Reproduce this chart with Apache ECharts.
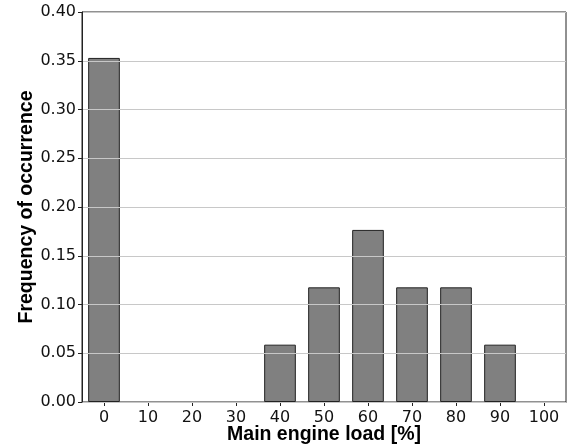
<!DOCTYPE html>
<html>
<head>
<meta charset="utf-8">
<script src="https://cdn.jsdelivr.net/npm/echarts@6/dist/echarts.min.js"></script>
<style>html,body{margin:0;padding:0;background:#fff}#c{width:574px;height:446px}</style>
</head>
<body>
<div id="c"></div>
<script>
const categories = ['0','10','20','30','40','50','60','70','80','90','100'];
const frequencies = [0.3529, 0, 0, 0, 0.0588, 0.1176, 0.1765, 0.1176, 0.1176, 0.0588, 0];
const yTicks = [0, 0.05, 0.10, 0.15, 0.20, 0.25, 0.30, 0.35, 0.40];
const xTitle = 'Main engine load [%]';
const yTitle = 'Frequency of occurrence';

const chart = echarts.init(document.getElementById('c'), null, {renderer: 'canvas'});
const tickFont = 'DejaVu Sans';
const titleFont = 'Liberation Sans';
chart.setOption({
  animation: false,
  grid: {left: 82, right: 8, top: 12, bottom: 44, show: true, borderColor: '#222', borderWidth: 1, backgroundColor: 'transparent',
         containLabel: false, outerBoundsMode: 'none'},
  xAxis: {
    type: 'category',
    data: categories,
    boundaryGap: true,
    axisLine: {show: true, lineStyle: {color: '#222', width: 1}},
    axisTick: {show: true, alignWithLabel: true, length: 4, lineStyle: {color: '#222'}},
    axisLabel: {color: '#111', fontSize: 16, fontFamily: tickFont, margin: 8},
    name: xTitle,
    nameLocation: 'middle',
    nameGap: 23,
    nameMoveOverlap: false,
    nameTextStyle: {fontSize: 19.5, fontWeight: 'bold', fontFamily: titleFont, color: '#000'},
    splitLine: {show: false}
  },
  yAxis: {
    type: 'value',
    min: 0, max: 0.4, interval: 0.05,
    z: 3,
    axisLine: {show: true, lineStyle: {color: '#222', width: 1}},
    axisTick: {show: true, length: 4, lineStyle: {color: '#222'}},
    axisLabel: {color: '#111', fontSize: 16, fontFamily: tickFont, margin: 6,
      formatter: v => { const t = yTicks.find(x => Math.abs(x - v) < 1e-9); return (t === undefined ? v : t).toFixed(2); }},
    splitLine: {show: true, lineStyle: {color: '#c8c8c8', width: 1}},
    name: yTitle,
    nameLocation: 'middle',
    nameGap: 45,
    nameMoveOverlap: false,
    nameRotate: 90,
    nameTextStyle: {fontSize: 19.5, fontWeight: 'bold', fontFamily: titleFont, color: '#000'}
  },
  series: [{
    type: 'bar',
    data: frequencies.map(v => v === 0 ? '-' : v),
    barWidth: '72%',
    itemStyle: {color: '#808080', borderColor: '#222', borderWidth: 1}
  }]
});
</script>
</body>
</html>
